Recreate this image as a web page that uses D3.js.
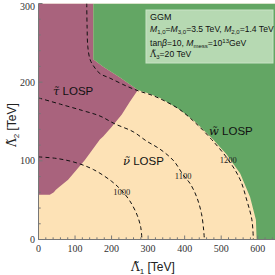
<!DOCTYPE html>
<html><head><meta charset="utf-8">
<script src="https://cdn.jsdelivr.net/npm/d3@7"></script>
<style>body{margin:0;background:#fff}svg{display:block}</style>
</head><body>
<script>
// ---- data (TeV) ----
const xTicks = [0,100,200,300,400,500,600];
const yTicks = [0,100,200,300];
const regionStau = [[0,300],[150,300],[150,229],[176,220],[223,206],[272,190],[250,175],[228,159],[200,143],[177,131],[168,127],[127,101],[81,76],[55,66],[47,63],[42,60],[31,57],[0,57]];
const regionWino = [[150,300],[650,300],[650,0],[597,0],[595,25],[579,54],[552,84],[515,108],[478,127],[428,150],[387,165],[333,180],[300,186],[272,190],[223,206],[176,220],[150,229]];
const contour1000 = [[0,105],[50,103],[100,98],[150,89],[200,74],[228,62],[250,49],[270,31],[280,15],[283,0]];
const contour1100 = [[0,180],[60,172],[120,164],[168,157],[209,147],[259,137],[296,125],[332,115],[370,100],[396,82],[415,71],[433,54],[446,33],[452,12],[454,0]];
const contour1200 = [[132,300],[133,270],[135,245],[141,229],[150,221],[168,211],[196,205],[241,195],[273,189],[313,183],[350,175],[387,165],[430,148],[474,127],[520,101],[552,76],[570,50],[584,25],[588,0]];
const contourLabels = [["1000",228,61],["1100",396,81],["1200",519,101]];

const W=275,H=275;
const x = d3.scaleLinear().domain([0,650]).range([38.5,276]);
const y = d3.scaleLinear().domain([0,300]).range([239.5,3.5]);

const svg = d3.select("body").append("svg").attr("width",W).attr("height",H);
svg.append("defs").append("clipPath").attr("id","clip").append("rect")
  .attr("x",x(0)).attr("y",y(300)).attr("width",x(650)-x(0)).attr("height",y(0)-y(300));
const g = svg.append("g").attr("clip-path","url(#clip)");
g.append("rect").attr("x",x(0)).attr("y",y(300)).attr("width",x(650)-x(0)).attr("height",y(0)-y(300)).attr("fill","#fde2b6");
const poly = d3.line().x(d=>x(d[0])).y(d=>y(d[1]));
g.append("path").attr("d",poly(regionStau)+"Z").attr("fill","#a9637d");
g.append("path").attr("d",poly(regionWino)+"Z").attr("fill","#63a664");
const curve = d3.line().x(d=>x(d[0])).y(d=>y(d[1])).curve(d3.curveCatmullRom);
[contour1000,contour1100,contour1200].forEach(c=>{
  g.append("path").attr("d",curve(c)).attr("fill","none").attr("stroke","#111").attr("stroke-width",1).attr("stroke-dasharray","4,3");
});
contourLabels.forEach(([t,a,b])=>{
  g.append("text").attr("x",x(a)).attr("y",y(b)+3).attr("text-anchor","middle")
   .attr("font-family","Liberation Serif").attr("font-size",8.5).attr("fill","#222").text(t);
});

// legend box
const lg = svg.append("g");
lg.append("rect").attr("x",146).attr("y",10).attr("width",127).attr("height",53).attr("fill","#b6d9b2").attr("stroke","#c9e3c5").attr("stroke-width",1);
const sans = "Liberation Sans";
function addText(px,py,parts,size){
  const t = lg.append("text").attr("x",px).attr("y",py).attr("font-family",sans).attr("font-size",size).attr("fill","#111");
  parts.forEach(p=>{
    const s = t.append("tspan").text(p.t);
    if(p.i) s.attr("font-style","italic");
    if(p.f) s.attr("font-family",p.f);
    if(p.sub){ s.attr("dy",2).attr("font-size",size*0.7); }
    if(p.sup){ s.attr("dy",-3).attr("font-size",size*0.7); }
    if(p.back) s.attr("dy",p.back);
  });
  return t;
}
addText(150,20,[{t:"GGM"}],9);
addText(150,32,[{t:"M",i:1},{t:"1,0",sub:1},{t:"=",back:-2},{t:"M",i:1},{t:"3,0",sub:1},{t:"=3.5 TeV, ",back:-2},{t:"M",i:1},{t:"2,0",sub:1},{t:"=1.4 TeV",back:-2}],8.6);
addText(150,46,[{t:"tan"},{t:"β",i:1},{t:"=10, "},{t:"M",i:1},{t:"mess",sub:1},{t:"=10",back:-2},{t:"13",sup:1},{t:"GeV",back:3}],8.6);
addText(150,57,[{t:"Λ̃",f:"DejaVu Serif"},{t:"3",sub:1},{t:"=20 TeV",back:-2}],8.6);

// region labels
function regionLabel(px,py,sym){
  const t = svg.append("text").attr("x",px).attr("y",py).attr("font-family",sans).attr("font-size",11.5).attr("fill","#111");
  t.append("tspan").attr("font-family","DejaVu Serif").attr("font-style","italic").text(sym);
  t.append("tspan").text(" LOSP");
}
regionLabel(53,95,"τ̃");
regionLabel(123,165,"ν̃");
regionLabel(209,135,"w̃");

// axes
const ax = svg.append("g").attr("stroke","#777").attr("fill","none");
ax.append("line").attr("x1",x(0)).attr("x2",x(650)).attr("y1",y(0)).attr("y2",y(0));
ax.append("line").attr("x1",x(0)).attr("x2",x(0)).attr("y1",y(0)).attr("y2",y(300));
d3.range(0,651,20).forEach(v=>{
  const major = v%100===0;
  ax.append("line").attr("x1",x(v)).attr("x2",x(v)).attr("y1",y(0)).attr("y2",y(0)-(major?4:2.2));
});
d3.range(0,301,20).forEach(v=>{
  const major = v%100===0;
  ax.append("line").attr("x1",x(0)).attr("x2",x(0)+(major?4:2.2)).attr("y1",y(v)).attr("y2",y(v));
});
xTicks.forEach(v=>{
  svg.append("text").attr("x",x(v)).attr("y",252).attr("text-anchor","middle")
    .attr("font-family","Liberation Serif").attr("font-size",10).attr("fill","#333").text(v);
});
yTicks.forEach(v=>{
  svg.append("text").attr("x",35).attr("y",Math.max(y(v)+3.5,10)).attr("text-anchor","end")
    .attr("font-family","Liberation Serif").attr("font-size",10).attr("fill","#333").text(v);
});
// axis titles
const xt = svg.append("text").attr("x",131).attr("y",271).attr("font-size",12).attr("fill","#222").attr("font-family",sans);
xt.append("tspan").attr("font-family","DejaVu Serif").text("Λ̃");
xt.append("tspan").attr("font-size",8).attr("dy",3).text("1");
xt.append("tspan").attr("dy",-3).text(" [TeV]");
const yt = svg.append("text").attr("transform","translate(16,147) rotate(-90)").attr("font-size",12).attr("fill","#222").attr("font-family",sans);
yt.append("tspan").attr("font-family","DejaVu Serif").text("Λ̃");
yt.append("tspan").attr("font-size",8).attr("dy",3).text("2");
yt.append("tspan").attr("dy",-3).text(" [TeV]");
</script>
</body></html>
